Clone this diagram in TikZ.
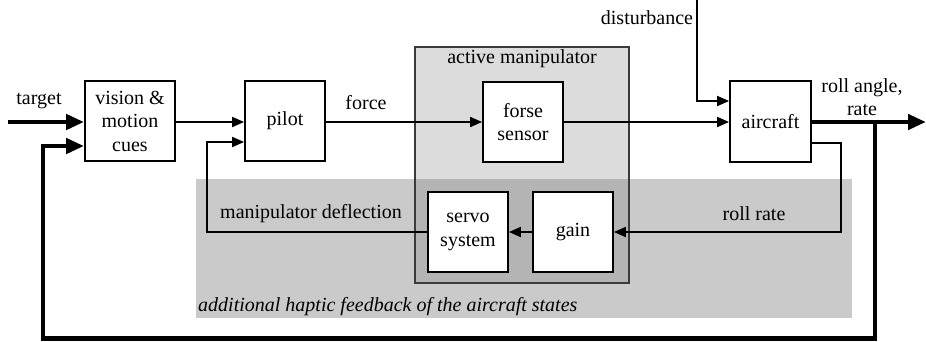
\documentclass[tikz,border=0pt]{standalone}
\usepackage{fontspec}
\setmainfont{Liberation Serif}
\usetikzlibrary{arrows.meta,calc}
\definecolor{haptic}{HTML}{CACACA}
\definecolor{manip}{HTML}{DCDCDC}
\definecolor{overlap}{HTML}{B4B4B4}
\definecolor{manipborder}{HTML}{3A3A3A}
\tikzset{
  blk/.style={draw=black,line width=1.8pt,fill=white,minimum width=80pt,minimum height=80pt,inner sep=0pt,align=center,font=\fontsize{20}{23.5}\selectfont},
  lbl/.style={inner sep=0pt,align=center,font=\fontsize{20}{23.5}\selectfont},
  thin/.style={line width=1.8pt,line join=miter,-{Triangle[length=12pt,width=10pt]}},
  thick/.style={line width=4.5pt,line join=miter,-{Triangle[length=18pt,width=15pt]}},
}
\begin{document}
\begin{tikzpicture}[x=1pt,y=-1pt]
\useasboundingbox (0,0) rectangle (926,341);
% backgrounds
\fill[haptic] (196,179) rectangle (852,318);
\fill[manip] (415,47) rectangle (629,179);
\fill[overlap] (415,179) rectangle (629,283);
\draw[manipborder,line width=1.8pt] (415,47) rectangle (629,283);
\node[lbl,anchor=base west,font=\fontsize{20}{23.5}\selectfont\itshape] (hapticlbl) at (198,311) {additional haptic feedback of the aircraft states};
\node[lbl] (maniplbl) at (522,59) {active manipulator};
% blocks
\node[blk,minimum width=90pt] (vision) at (130,121) {vision \&\\motion\\cues};
\node[blk] (pilot) at (285,121) {pilot};
\node[blk] (sensor) at (523,122) {forse\\sensor};
\node[blk] (servo) at (468,232) {servo\\system};
\node[blk] (gain) at (573,232) {gain};
\node[blk,minimum width=81pt,minimum height=81pt] (aircraft) at (770.5,121.5) {aircraft};
% labels
\node[lbl] (targetlbl) at (39,101) {target};
\node[lbl] (forcelbl) at (366,103) {force};
\node[lbl] (distlbl) at (647,18) {disturbance};
\node[lbl] (rolllbl) at (862,97) {roll angle,\\rate};
\node[lbl] (rollratelbl) at (754,214) {roll rate};
\node[lbl] (defllbl) at (311,214) {manipulator deflection};
% coordinates
\coordinate (tstart) at (8,122);
\coordinate (dtop) at (697,0);
\coordinate (outend) at (926,122);
\coordinate (fbsplit) at (875,122);
\coordinate (fbbottom) at (875,338.5);
\coordinate (fbleft) at (43,338.5);
\coordinate (rrcorner) at (841,143);
\coordinate (dcorner) at (207,232);
% connectors
\draw[thick] (tstart) -- (tstart -| vision.west);
\draw[thin] (vision.east |- 0,122) -- (pilot.west |- 0,122);
\draw[thin] (pilot.east |- 0,122) -- (sensor.west |- 0,122);
\draw[thin] (sensor.east |- 0,122) -- (aircraft.west |- 0,122);
\draw[thin] (dtop) |- (aircraft.west |- 0,101);
\draw[thick] (aircraft.east |- 0,122) -- (outend);
\draw[thick] (fbsplit) -- (fbbottom) -- (fbleft) |- (vision.west |- 0,146);
\draw[thin] (aircraft.east |- 0,143) -- (rrcorner) |- (gain.east);
\draw[thin] (gain.west) -- (servo.east);
\draw[thin] (servo.west) -- (dcorner) |- (pilot.west |- 0,142);
\end{tikzpicture}
\end{document}
